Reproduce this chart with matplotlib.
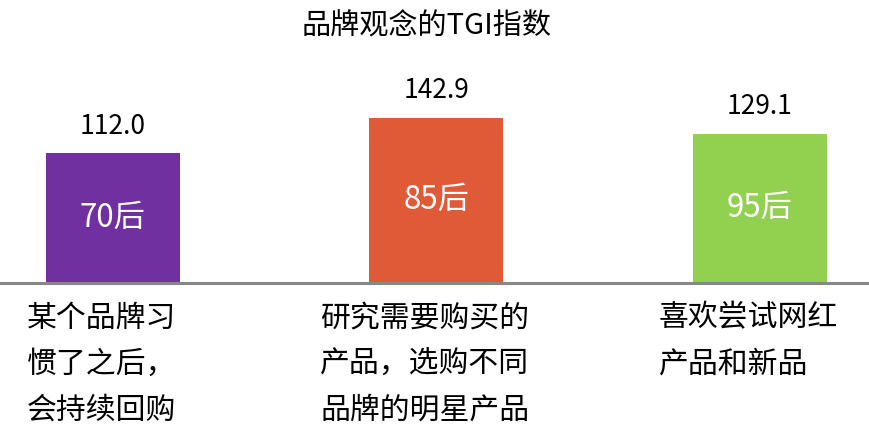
import matplotlib
matplotlib.use("Agg")
import matplotlib.pyplot as plt

plt.rcParams['font.family'] = ['Noto Sans CJK SC', 'DejaVu Sans']

# data
generations = ["70后", "85后", "95后"]
tgi_values = [112.0, 142.9, 129.1]
categories = ["某个品牌习\n惯了之后，\n会持续回购",
              "研究需要购买的\n产品，选购不同\n品牌的明星产品",
              "喜欢尝试网红\n产品和新品"]
bar_colors = ["#7030A0", "#E05A38", "#92D050"]

fig = plt.figure(figsize=(8.7, 4.44), dpi=100)
ax = fig.add_axes([0, 1 - 283 / 444, 1, 223 / 444])

x = list(range(len(tgi_values)))
bars = ax.bar(x, tgi_values, width=0.414, color=bar_colors)

ax.set_xlim(-0.349, 2.340)
ax.set_ylim(0, 192.7)
for s in ax.spines.values():
    s.set_visible(False)
ax.set_xticks([])
ax.set_yticks([])
ax.axhline(0, color="#878787", linewidth=2.2, clip_on=False)

for i, (b, v) in enumerate(zip(bars, tgi_values)):
    # value above the bar
    ax.annotate(f"{v:.1f}", (b.get_x() + b.get_width() / 2, v),
                xytext=(0, 19.5), textcoords="offset points",
                ha="center", va="center", fontsize=19, color="black")
    # generation label inside the bar
    ax.text(b.get_x() + b.get_width() / 2, v / 2, generations[i],
            ha="center", va="center", fontsize=22.5, color="white")
    # category text under the axis
    ax.annotate(categories[i], (i, 0), xytext=(-8.5, -14),
                textcoords="offset points", ha="center", va="top",
                multialignment="left", fontsize=21.5, linespacing=1.62,
                color="black", annotation_clip=False)

fig.text(0.49, 1 - 25 / 444, "品牌观念的TGI指数", ha="center", va="center",
         fontsize=21, color="black")

fig.savefig("out.png", dpi=100)
